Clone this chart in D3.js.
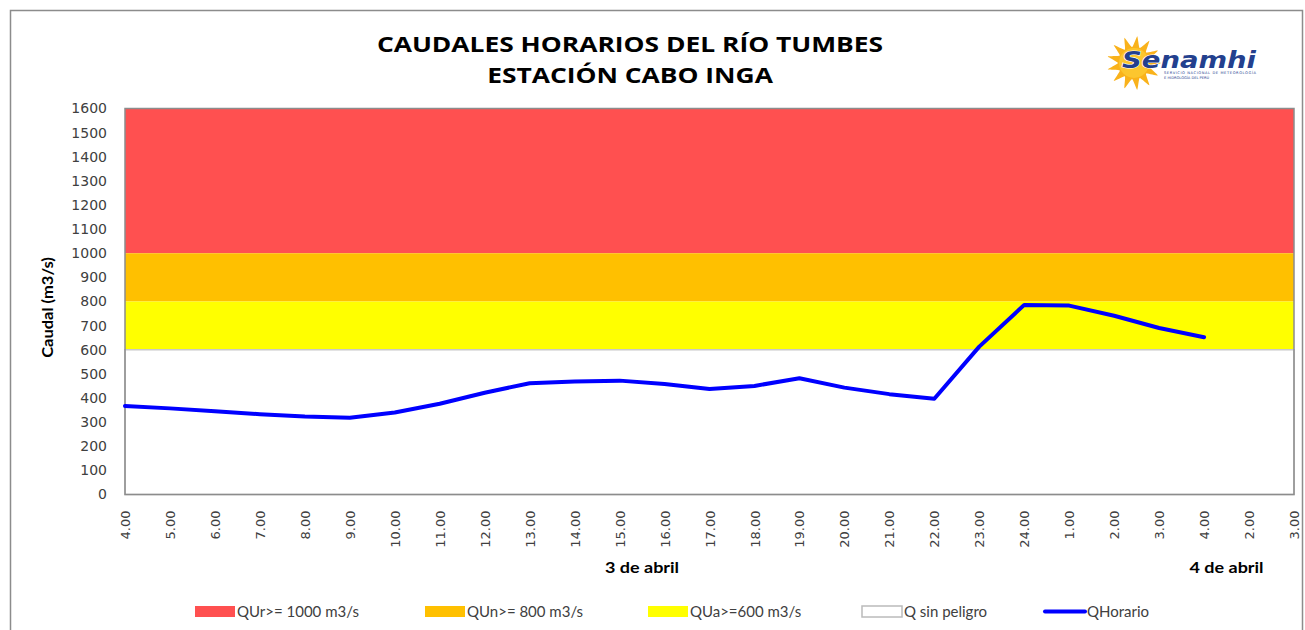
<!DOCTYPE html>
<html lang="es">
<head>
<meta charset="UTF-8">
<title>Caudales horarios del Río Tumbes</title>
<script src="https://d3js.org/d3.v7.min.js"></script>
<style>
    body { margin: 0; background: #fff; }
    svg { display: block; }
    .ytick text { font-family: "DejaVu Sans", Verdana, sans-serif; font-size: 14px; fill: #404040; }
    .xtick text { font-family: "DejaVu Sans", Verdana, sans-serif; font-size: 13px; fill: #404040; }
    .legend text { font-family: Lato, "Noto Sans", sans-serif; font-size: 15px; fill: #404040; }
</style>
</head>
<body>
<script>
    // Hour labels on the category axis (two days: 3 and 4 April)
    const hourLabels = ["4.00", "5.00", "6.00", "7.00", "8.00", "9.00", "10.00", "11.00", "12.00",
        "13.00", "14.00", "15.00", "16.00", "17.00", "18.00", "19.00", "20.00", "21.00", "22.00",
        "23.00", "24.00", "1.00", "2.00", "3.00", "4.00", "2.00", "3.00"];

    // Hourly discharge, m3/s (empty for the last two slots)
    const qHorario = [367, 357, 345, 333, 323, 318, 340, 376, 422, 461, 468, 472, 458, 437, 450,
        482, 443, 416, 397, 613, 786, 783, 741, 690, 652];

    // Threshold bands
    const bandLow = [1000, 800, 600, 0];
    const bandHigh = [1600, 1000, 800, 600];
    const bandColors = ["#FF5050", "#FFC000", "#FFFF00", "#FFFFFF"];
    const bandNames = ["QUr>= 1000 m3/s", "QUn>= 800 m3/s", "QUa>=600 m3/s", "Q sin peligro"];

    const yTicks = d3.range(0, 1601, 100);
    const dayLabels = ["3 de abril", "4 de abril"];
    const dayIndex = [11.5, 24.5];

    const width = 1305, height = 630;
    const plot = {left: 125, right: 1294, top: 108.5, bottom: 494.5};

    const svg = d3.select("body").append("svg")
        .attr("width", width)
        .attr("height", height);

    // chart frame (right and bottom run off the picture)
    svg.append("path")
        .attr("d", `M10.5,${height} V10.5 H1302.5 V${height}`)
        .attr("fill", "none")
        .attr("stroke", "#8c8c8c")
        .attr("stroke-width", 1.5);

    const x = d3.scalePoint()
        .domain(d3.range(hourLabels.length))
        .range([plot.left, plot.right]);

    const y = d3.scaleLinear()
        .domain([0, 1600])
        .range([plot.bottom, plot.top]);

    // bands
    svg.append("g").selectAll("rect")
        .data(bandLow)
        .join("rect")
        .attr("x", plot.left)
        .attr("width", plot.right - plot.left)
        .attr("y", (d, i) => y(bandHigh[i]))
        .attr("height", (d, i) => y(d) - y(bandHigh[i]))
        .attr("fill", (d, i) => bandColors[i])
        .attr("stroke", (d, i) => i === 3 ? "#c8c8c8" : "none")
        .attr("stroke-width", 1.5);

    // plot area border
    svg.append("rect")
        .attr("x", plot.left)
        .attr("y", plot.top)
        .attr("width", plot.right - plot.left)
        .attr("height", plot.bottom - plot.top)
        .attr("fill", "none")
        .attr("stroke", "#8c8c8c")
        .attr("stroke-width", 1.5);

    // y axis
    svg.append("g")
        .attr("class", "ytick")
        .attr("transform", `translate(${plot.left},0)`)
        .call(d3.axisLeft(y).tickValues(yTicks).tickSize(0).tickPadding(18).tickFormat(d3.format("d")))
        .call(g => g.select(".domain").remove());

    svg.append("text")
        .attr("transform", `translate(53,${(y(0) + y(1600)) / 2 + 6}) rotate(-90) scale(1.1,1)`)
        .attr("text-anchor", "middle")
        .style("font-family", "Lato, sans-serif")
        .style("font-weight", "bold")
        .style("font-size", "15px")
        .text("Caudal (m3/s)");

    // x axis with vertical labels
    svg.append("g")
        .attr("class", "xtick")
        .attr("transform", `translate(0,${plot.bottom})`)
        .call(d3.axisBottom(x).tickSize(0).tickFormat(i => hourLabels[i]))
        .call(g => g.select(".domain").remove())
        .call(g => g.selectAll("text")
            .attr("transform", "rotate(-90)")
            .attr("text-anchor", "end")
            .attr("x", -16)
            .attr("y", 0)
            .attr("dy", "0.35em"));

    svg.append("g").selectAll("text")
        .data(dayLabels)
        .join("text")
        .attr("transform", (d, i) =>
            `translate(${x(Math.floor(dayIndex[i])) + (dayIndex[i] % 1) * x.step()},573) scale(1.2,1)`)
        .attr("text-anchor", "middle")
        .style("font-family", "Lato, sans-serif")
        .style("font-weight", "bold")
        .style("font-size", "15px")
        .text(d => d);

    // discharge line
    svg.append("path")
        .datum(qHorario)
        .attr("fill", "none")
        .attr("stroke", "#0000FF")
        .attr("stroke-width", 4)
        .attr("stroke-linejoin", "round")
        .attr("stroke-linecap", "round")
        .attr("d", d3.line().x((d, i) => x(i)).y(d => y(d)));

    // title (stretched sideways like the original)
    const title = svg.append("text")
        .attr("transform", "translate(630,0) scale(1.2,1)")
        .attr("text-anchor", "middle")
        .style("font-family", "'Open Sans', sans-serif")
        .style("font-weight", "bold")
        .style("font-size", "22px");
    title.append("tspan").attr("x", 0).attr("y", 52).text("CAUDALES HORARIOS DEL RÍO TUMBES");
    title.append("tspan").attr("x", 0).attr("y", 83).text("ESTACIÓN CABO INGA");

    // legend
    const legendX = [195, 425, 648, 862, 1045];
    const legend = svg.append("g").attr("class", "legend");
    bandNames.forEach((name, i) => {
        legend.append("rect")
            .attr("x", legendX[i])
            .attr("y", 606)
            .attr("width", 40)
            .attr("height", 11)
            .attr("fill", bandColors[i])
            .attr("stroke", i === 3 ? "#bbbbbb" : "none")
            .attr("stroke-width", 1.5);
        legend.append("text")
            .attr("x", legendX[i] + 42)
            .attr("y", 617)
            .text(name);
    });
    legend.append("line")
        .attr("x1", legendX[4]).attr("x2", legendX[4] + 40)
        .attr("y1", 611.5).attr("y2", 611.5)
        .attr("stroke", "#0000FF")
        .attr("stroke-width", 4)
        .attr("stroke-linecap", "round");
    legend.append("text")
        .attr("x", legendX[4] + 42)
        .attr("y", 617)
        .text("QHorario");

    // Senamhi logo
    const logo = svg.append("g").attr("transform", "translate(1134,63)");
    const rays = 13;
    const sunPts = [];
    for (let k = 0; k < rays * 2; k++) {
        const a = k * Math.PI / rays;
        const r = k % 2 === 0 ? 27 : 16;
        sunPts.push([r * Math.cos(a), r * Math.sin(a)]);
    }
    logo.append("path")
        .attr("d", d3.line().curve(d3.curveCardinalClosed.tension(0.6))(sunPts))
        .attr("fill", "#F9B21B");
    logo.append("circle").attr("r", 15).attr("fill", "#FCC62E");
    logo.append("text")
        .attr("x", -12)
        .attr("y", 5)
        .style("font-family", "'DejaVu Sans', sans-serif")
        .style("font-weight", "bold")
        .style("font-style", "italic")
        .style("font-size", "23px")
        .attr("fill", "#23408E")
        .attr("stroke", "#ffffff")
        .attr("stroke-width", 1.2)
        .attr("paint-order", "stroke")
        .attr("textLength", 134)
        .attr("lengthAdjust", "spacingAndGlyphs")
        .text("Senamhi");
    logo.append("text")
        .attr("x", 30).attr("y", 11)
        .style("font-family", "'DejaVu Sans', sans-serif")
        .style("font-size", "3.6px")
        .attr("fill", "#23408E")
        .attr("textLength", 92)
        .text("SERVICIO NACIONAL DE METEOROLOGÍA");
    logo.append("text")
        .attr("x", 30).attr("y", 15.5)
        .style("font-family", "'DejaVu Sans', sans-serif")
        .style("font-size", "3.6px")
        .attr("fill", "#23408E")
        .text("E HIDROLOGÍA DEL PERÚ");
</script>
</body>
</html>
